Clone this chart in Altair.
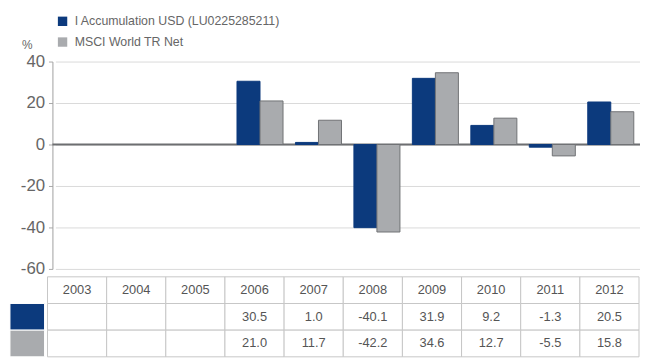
import altair as alt
import pandas as pd

years = ["2003", "2004", "2005", "2006", "2007", "2008", "2009", "2010", "2011", "2012"]
fund = [None, None, None, 30.5, 1.0, -40.1, 31.9, 9.2, -1.3, 20.5]
msci = [None, None, None, 21.0, 11.7, -42.2, 34.6, 12.7, -5.5, 15.8]
series_names = ["I Accumulation USD (LU0225285211)", "MSCI World TR Net"]
fill_colors = ["#0c3a7d", "#a9abae"]
stroke_colors = ["#0c3a7d", "#707275"]
y_ticks = [-60, -40, -20, 0, 20, 40]
row_keys = ["year", "fund", "msci"]

FONT = "Liberation Sans"
TXT = "#666666"

# bar data
bar_rows = []
for yr, f, m in zip(years, fund, msci):
    if f is not None:
        bar_rows.append({"year": yr, "series": series_names[0], "value": f})
    if m is not None:
        bar_rows.append({"year": yr, "series": series_names[1], "value": m})
bars_df = pd.DataFrame(bar_rows)

# table data
cells = []
for yr, f, m in zip(years, fund, msci):
    cells.append({"year": yr, "row": "year", "text": yr})
    cells.append({"year": yr, "row": "fund", "text": "" if f is None else f"{f:.1f}"})
    cells.append({"year": yr, "row": "msci", "text": "" if m is None else f"{m:.1f}"})
cells_df = pd.DataFrame(cells)

swatch_df = pd.DataFrame({"col": ["sw", "sw"], "row": ["fund", "msci"], "series": series_names})
zero_df = pd.DataFrame({"v": [0]})

y_scale = alt.Scale(domain=[-60, 40], range=[210, 0], nice=False, zero=False)
x_bar_scale = alt.Scale(domain=years, range=[3, 595], paddingInner=0, paddingOuter=0)
x_tab_scale = alt.Scale(domain=years, range=[-5, 594], paddingInner=0, paddingOuter=0)
y_tab_scale = alt.Scale(domain=row_keys, range=[218, 299], paddingInner=0, paddingOuter=0)

bars = alt.Chart(bars_df).mark_bar(strokeWidth=1).encode(
    x=alt.X("year:N", scale=x_bar_scale, axis=None),
    xOffset=alt.XOffset("series:N", scale=alt.Scale(domain=series_names, paddingInner=0, paddingOuter=0.27)),
    y=alt.Y("value:Q", scale=y_scale, axis=alt.Axis(
        values=y_ticks, title="%", titleAngle=0, titleX=-26, titleY=-17,
        titleAlign="center", titleBaseline="middle", titleFont=FONT, titleFontSize=12,
        titleFontWeight="normal", titleColor=TXT,
        labelFont=FONT, labelFontSize=17, labelColor=TXT, labelPadding=4,
        labelExpr="'' + datum.value",
        tickSize=4, tickColor="#a8a8a8", domainColor="#a0a0a0",
        grid=True, gridColor="#d9d9d9", gridWidth=1)),
    color=alt.Color("series:N", scale=alt.Scale(domain=series_names, range=fill_colors),
                    legend=alt.Legend(orient="none", legendX=4, legendY=-47, direction="vertical",
                                      title=None, symbolType="square", symbolSize=90,
                                      symbolStrokeWidth=0, labelFont=FONT, labelFontSize=12.5,
                                      labelColor=TXT, labelLimit=400, rowPadding=8,
                                      labelOffset=6, padding=0)),
    stroke=alt.Stroke("series:N", scale=alt.Scale(domain=series_names, range=stroke_colors), legend=None),
)

zero = alt.Chart(zero_df).mark_rule(color="#6d6e71", strokeWidth=2).encode(
    y=alt.Y("v:Q", scale=y_scale, axis=None)
)

table_cells = alt.Chart(cells_df).mark_rect(fill="white", stroke="#c6c6c6", strokeWidth=1).encode(
    x=alt.X("year:N", scale=x_tab_scale, axis=None),
    y=alt.Y("row:N", scale=y_tab_scale, axis=None),
)

table_text = alt.Chart(cells_df).mark_text(font=FONT, fontSize=13, color="#555555", baseline="middle").encode(
    x=alt.X("year:N", scale=x_tab_scale, axis=None),
    y=alt.Y("row:N", scale=y_tab_scale, axis=None),
    text="text:N",
)

swatches = alt.Chart(swatch_df).mark_rect(stroke="white", strokeWidth=1).encode(
    x=alt.X("col:N", scale=alt.Scale(domain=["sw"], range=[-43, -8], paddingInner=0, paddingOuter=0), axis=None),
    y=alt.Y("row:N", scale=y_tab_scale, axis=None),
    fill=alt.Fill("series:N", scale=alt.Scale(domain=series_names, range=fill_colors), legend=None),
)

chart = alt.layer(zero, bars, table_cells, table_text, swatches).resolve_scale(
    x="independent", y="independent"
).properties(
    width=595, height=300,
    autosize=alt.AutoSizeParams(type="none"),
    padding={"left": 45, "top": 52, "right": 0, "bottom": 0},
).configure_view(stroke=None)

chart.save("out.html", embed_options={"renderer": "svg", "actions": False})
